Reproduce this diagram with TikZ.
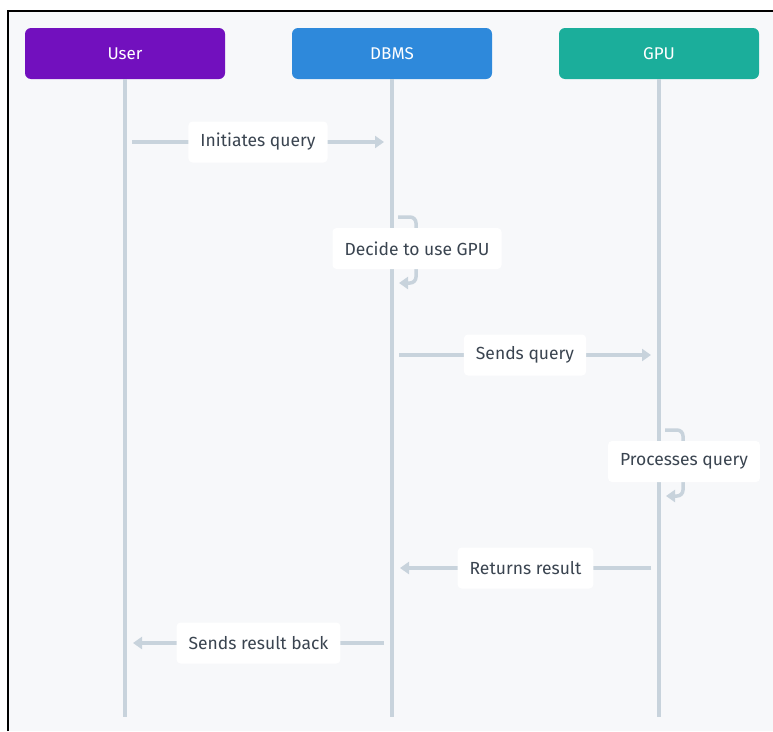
\documentclass[tikz,border=0pt]{standalone}
\usepackage{fontspec}
\setmainfont{Fira Sans}
\usetikzlibrary{arrows.meta}
\definecolor{userpurple}{HTML}{7210BE}
\definecolor{dbmsblue}{HTML}{2E89DB}
\definecolor{gputeal}{HTML}{1BAE9B}
\definecolor{lifegray}{HTML}{C8D3DC}
\definecolor{labeltext}{HTML}{3A4450}
\definecolor{canvas}{HTML}{F7F8FA}

\begin{document}
\begin{tikzpicture}[x=1pt,y=-1pt,>={Triangle[length=9pt,width=12pt]},
  actor/.style={rectangle,rounded corners=6pt,minimum width=200pt,
    minimum height=51pt,text=white,font=\fontsize{17}{20}\selectfont},
  life/.style={draw=lifegray,line width=4pt},
  msg/.style={draw=lifegray,line width=3.5pt},
  msglabel/.style={rectangle,fill=white,rounded corners=4pt,text=labeltext,
    minimum height=41pt,inner xsep=12pt,font=\fontsize{17.5}{20}\selectfont}]
% ---------- canvas ----------
\useasboundingbox (0,0) rectangle (773,731);
\fill[white] (0,0) rectangle (773,731);
\fill[canvas] (8,11) rectangle (773,731);
\draw[line width=1.5pt] (8,731) -- (8,11) -- (773,11);
% ---------- actors ----------
\node[actor,fill=userpurple] (user) at (125,53.5) {User};
\node[actor,fill=dbmsblue] (dbms) at (392,53.5) {DBMS};
\node[actor,fill=gputeal] (gpu) at (659,53.5) {GPU};
% lifelines
\coordinate (userend) at (125,717);
\coordinate (dbmsend) at (392,717);
\coordinate (gpuend) at (659,717);
\draw[life] (user.south) -- (userend);
\draw[life] (dbms.south) -- (dbmsend);
\draw[life] (gpu.south) -- (gpuend);
% ---------- messages ----------
\coordinate (m1s) at (132,142);
\coordinate (m1e) at (384,142);
\draw[msg,->] (m1s) -- (m1e) node[msglabel,midway] (initq) {Initiates query};
% DBMS zu sich selbst
\coordinate (l1s) at (398,217);
\coordinate (l1e) at (399,283);
\draw[msg,->,rounded corners=6pt] (l1s) -| ([xshift=17pt]l1e) -- (l1e);
\node[msglabel] (decide) at (417,248.5) {Decide to use GPU};
\coordinate (m2s) at (399,355);
\coordinate (m2e) at (651,355);
\draw[msg,->] (m2s) -- (m2e) node[msglabel,midway] (sendq) {Sends query};
% GPU zu sich selbst
\coordinate (l2s) at (665,430);
\coordinate (l2e) at (666,496);
\draw[msg,->,rounded corners=6pt] (l2s) -| ([xshift=17pt]l2e) -- (l2e);
\node[msglabel] (process) at (684,461.5) {Processes query};
\coordinate (m3s) at (651,568);
\coordinate (m3e) at (400,568);
\draw[msg,->] (m3s) -- (m3e) node[msglabel,midway] (ret) {Returns result};
\coordinate (m4s) at (384,643);
\coordinate (m4e) at (133,643);
\draw[msg,->] (m4s) -- (m4e) node[msglabel,midway] (back) {Sends result back};
\end{tikzpicture}
\end{document}
